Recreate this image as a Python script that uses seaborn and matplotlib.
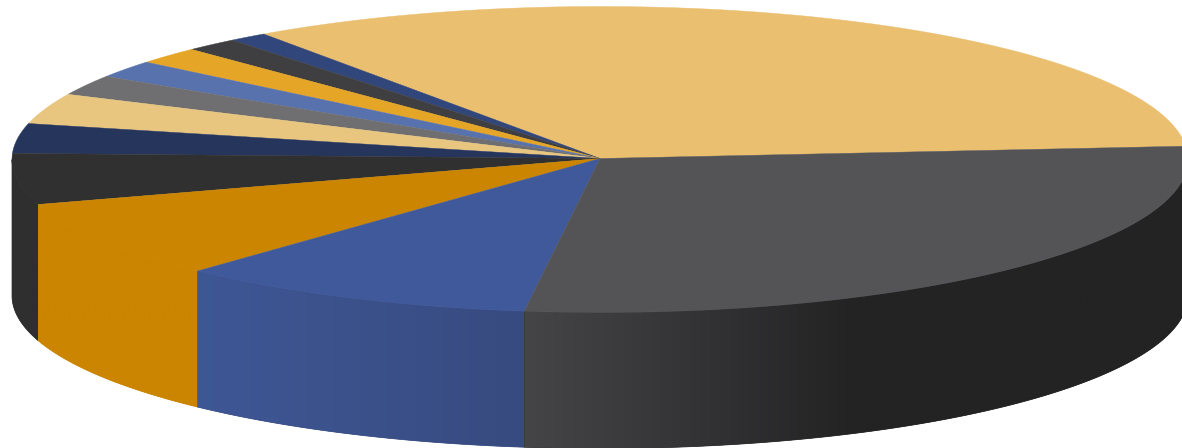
import numpy as np
import matplotlib
matplotlib.use("Agg")
import matplotlib.pyplot as plt
from matplotlib.patches import Polygon
import seaborn as sns

# slice sizes in degrees, counter clockwise from the right hand edge
sizes = [119.9, 3.8, 5.3, 6.5, 6.6, 7.7, 11.6, 11.3, 19.4, 29.7, 35.8, 102.4]
top_colors = ["#EABF6F", "#31467A", "#3F3F41", "#E5A527", "#5872AE", "#6F6F71",
              "#E8C680", "#26355C", "#303031", "#CB8500", "#40599A", "#545355"]
# side wall shading, left to right, only the front slices need one
side_colors = {8: ["#2F2F30", "#2F2F30"],
               9: ["#CB8500", "#CB8500"],
               10: ["#3E5795", "#384B80"],
               11: ["#454547", "#343436", "#232324", "#232324", "#232324"]}
start_angle = 5.0

cx, cy = 600, 159.5
rx, ry = 588, 153
depth = 136

sns.set_theme(style="white")
fig = plt.figure(figsize=(11.82, 4.48), dpi=100)
ax = fig.add_axes([0, 0, 1, 1])
ax.axis("off")


def rim(t):
    t = np.radians(t)
    return cx + rx * np.cos(t), cy - ry * np.sin(t)


edges = start_angle + np.concatenate([[0], np.cumsum(sizes)])

# side wall first, a gradient image cut to the shape of each slice
for i, stops in side_colors.items():
    tt = np.linspace(max(edges[i], 180), min(edges[i + 1], 360), 150)
    xs, ys = rim(tt)
    outline = np.c_[np.r_[xs, xs[::-1]], np.r_[ys, ys[::-1] + depth]]
    base = Polygon(outline, closed=True, color=stops[-1], lw=0.5, zorder=1)
    ax.add_patch(base)
    grad = np.array(sns.blend_palette(stops, 256))[None, :, :]
    im = ax.imshow(grad, extent=[xs.min(), xs.max(), 448, 0], aspect="auto",
                   interpolation="bilinear", zorder=2)
    im.set_clip_path(base)

# top face
for i, c in enumerate(top_colors):
    tt = np.linspace(edges[i], edges[i + 1], 120)
    xs, ys = rim(tt)
    ax.fill(np.r_[cx, xs], np.r_[cy - 1, ys], color=c, lw=0.3, zorder=3)

ax.set_xlim(0, 1182)
ax.set_ylim(448, 0)
ax.set_aspect("auto")

fig.savefig("out.png", dpi=100, facecolor="white")
